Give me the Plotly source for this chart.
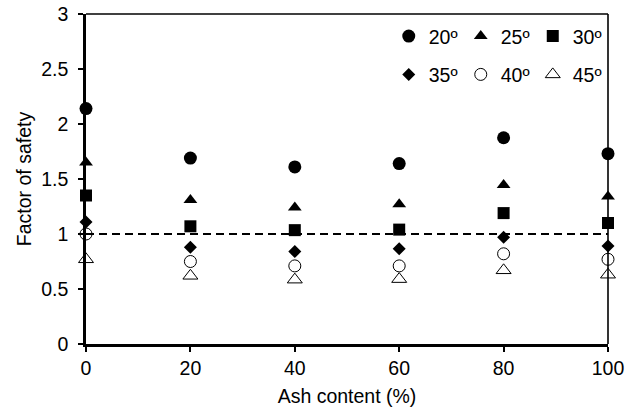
import plotly.graph_objects as go

# Ash content (%) tested for each slope angle
ash_content = [0, 20, 40, 60, 80, 100]

# Factor of safety per slope angle
fos_20 = [2.14, 1.69, 1.61, 1.64, 1.875, 1.73]
fos_25 = [1.65, 1.31, 1.24, 1.27, 1.445, 1.34]
fos_30 = [1.35, 1.07, 1.035, 1.04, 1.19, 1.10]
fos_35 = [1.11, 0.88, 0.84, 0.865, 0.97, 0.89]
fos_40 = [1.00, 0.75, 0.71, 0.71, 0.82, 0.77]
fos_45 = [0.77, 0.62, 0.585, 0.59, 0.67, 0.63]

series_labels = ["20º", "25º", "30º", "35º", "40º", "45º"]
series_values = [fos_20, fos_25, fos_30, fos_35, fos_40, fos_45]

y_ticks = [0, 0.5, 1, 1.5, 2, 2.5, 3]
y_tick_text = ["0", "0.5", "1", "1.5", "2", "2.5", "3"]
x_ticks = [0, 20, 40, 60, 80, 100]

marker_styles = [
    dict(symbol="circle", size=13, color="black"),
    dict(symbol="triangle-up", size=12, color="black"),
    dict(symbol="square", size=12, color="black"),
    dict(symbol="diamond", size=10, color="black"),
    dict(symbol="circle-open", size=12, color="black", line=dict(width=1, color="black")),
    dict(symbol="triangle-up-open", size=13, color="black", line=dict(width=1, color="black")),
]

FONT = "Liberation Sans, Arial, sans-serif"
FS = 19.5

fig = go.Figure()
for i, (label, vals, mk) in enumerate(zip(series_labels, series_values, marker_styles)):
    fig.add_trace(go.Scatter(
        x=ash_content, y=vals, mode="markers", name=label,
        marker=mk, cliponaxis=False,
        legend="legend" if i < 3 else "legend2",
    ))

# Reference line at factor of safety = 1
fig.add_shape(type="line", xref="x", yref="y", x0=0, x1=100, y0=1, y1=1,
              line=dict(color="black", width=1.8, dash="8px,5px"))
# Thin top and right frame lines
fig.add_shape(type="line", xref="paper", yref="paper", x0=0, x1=1, y0=1, y1=1,
              line=dict(color="black", width=1.6))
fig.add_shape(type="line", xref="paper", yref="paper", x0=1, x1=1, y0=0, y1=1,
              line=dict(color="black", width=1.6))

legend_common = dict(
    orientation="h", xanchor="left", yanchor="middle",
    font=dict(family=FONT, size=FS, color="black"),
    bgcolor="rgba(0,0,0,0)", entrywidth=27, entrywidthmode="pixels",
    itemclick=False, itemdoubleclick=False,
)

fig.update_layout(
    width=636, height=408,
    margin=dict(l=86, r=28, t=14, b=64, autoexpand=False),
    paper_bgcolor="white", plot_bgcolor="white",
    font=dict(family=FONT, size=FS, color="black"),
    showlegend=True,
    legend=dict(x=0.580, y=0.932, **legend_common),
    legend2=dict(x=0.580, y=0.816, **legend_common),
    xaxis=dict(
        range=[0, 100], tickvals=x_ticks, ticks="outside", ticklen=5,
        tickwidth=1.5, tickcolor="black", showline=True, linewidth=2.5,
        linecolor="black", showgrid=False, zeroline=False, automargin=False,
        tickfont=dict(size=FS),
        title=dict(text="Ash content (%)", font=dict(size=FS), standoff=12),
    ),
    yaxis=dict(
        range=[0, 3], tickvals=y_ticks, ticktext=y_tick_text, ticks="outside",
        ticklen=5, tickwidth=1.5, tickcolor="black", showline=True,
        linewidth=2.5, linecolor="black", showgrid=False, zeroline=False,
        automargin=False, tickfont=dict(size=FS), ticklabelstandoff=6,
        title=dict(text="Factor of safety", font=dict(size=FS), standoff=5),
    ),
)

fig.write_html("out.html")
